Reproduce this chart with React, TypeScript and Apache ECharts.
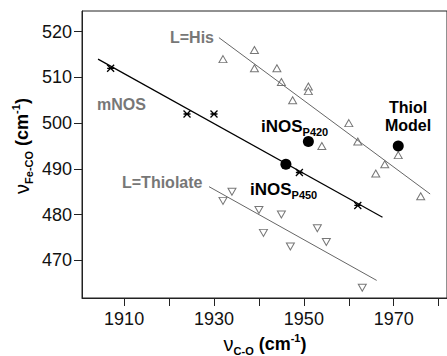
import React, { useEffect, useRef } from "react";
import * as echarts from "echarts";

// mNOS (asterisks)
const mnosX = [1907, 1924, 1930, 1949, 1962];
const mnosY = [512, 502, 502, 489.2, 482];
// L=His (up triangles)
const hisX = [1932, 1939, 1939, 1944, 1945, 1947.5, 1951, 1951, 1954, 1960, 1962, 1966, 1968, 1971, 1976];
const hisY = [514, 516, 512, 512, 509, 505, 508, 507, 495, 500, 496, 489, 491, 493, 484];
// L=Thiolate (down triangles)
const thiolateX = [1932, 1934, 1940, 1941, 1945, 1947, 1953, 1955, 1963];
const thiolateY = [483, 485, 481, 476, 480, 473, 477, 474, 464];
// Highlighted samples (filled circles)
const sampleNames = ["iNOS P420", "iNOS P450", "Thiol Model"];
const sampleX = [1951, 1946, 1971];
const sampleY = [496, 491, 495];
// Fit lines (end points)
const mnosFit = [[1904.2, 514.0], [1967.5, 479.4]];
const hisFit = [[1931.1, 518.7], [1978.1, 484.5]];
const thiolateFit = [[1928.9, 486.1], [1966.2, 465.6]];
// Axes
const xTicks = [1910, 1920, 1930, 1940, 1950, 1960, 1970, 1980];
const xLabels = [1910, 1930, 1950, 1970];
const yTicks = [470, 480, 490, 500, 510, 520];
const xRange = [1900.63, 1981.85];
const yRange = [461.75, 524.53];

const zip = (xs: number[], ys: number[]) => xs.map((x, i) => [x, ys[i]]);

const GRAY = "#777777";
const FONT = "Liberation Sans, Arial, sans-serif";

export default function App() {
  const ref = useRef<HTMLDivElement>(null);
  useEffect(() => {
    if (!ref.current) return;
    const chart = echarts.init(ref.current, null, { renderer: "svg" });
    const subRich = {
      m: { fontSize: 17, fontWeight: "bold", fontFamily: FONT, color: "#000", lineHeight: 22 },
      s: { fontSize: 11, fontWeight: "bold", fontFamily: FONT, color: "#000", lineHeight: 13, verticalAlign: "bottom" },
    };
    const titleRich = {
      n: { fontSize: 20, fontFamily: FONT, color: "#000", lineHeight: 24 },
      s: { fontSize: 11, fontWeight: "bold", fontFamily: FONT, color: "#000", lineHeight: 13, verticalAlign: "bottom" },
      b: { fontSize: 18, fontWeight: "bold", fontFamily: FONT, color: "#000", lineHeight: 24 },
      p: { fontSize: 11, fontWeight: "bold", fontFamily: FONT, color: "#000", lineHeight: 12, verticalAlign: "top" },
    };
    chart.setOption({
      animation: false,
      grid: {
        left: 82,
        top: 11,
        right: -6,
        bottom: 58,
        show: true,
        borderColor: "#222",
        borderWidth: 1,
      },
      xAxis: {
        type: "value",
        min: xRange[0],
        max: xRange[1],
        splitLine: { show: false },
        axisLine: { show: true, lineStyle: { color: "#222", width: 1 } },
        axisTick: { show: true, length: 8, customValues: xTicks, lineStyle: { color: "#222" } },
        axisLabel: {
          customValues: xLabels,
          formatter: (v: number) => String(v),
          fontSize: 18,
          fontFamily: FONT,
          color: "#111",
          margin: 12,
        },
      },
      yAxis: {
        type: "value",
        min: yRange[0],
        max: yRange[1],
        splitLine: { show: false },
        axisLine: { show: true, lineStyle: { color: "#222", width: 1 } },
        axisTick: { show: true, length: 8, customValues: yTicks, lineStyle: { color: "#222" } },
        axisLabel: {
          customValues: yTicks,
          formatter: (v: number) => String(v),
          fontSize: 18,
          fontFamily: FONT,
          color: "#111",
          margin: 10,
        },
      },
      series: [
        {
          type: "line",
          data: mnosFit,
          symbol: "none",
          lineStyle: { color: "#000", width: 1.2 },
          silent: true,
        },
        {
          type: "line",
          data: hisFit,
          symbol: "none",
          lineStyle: { color: "#666", width: 1 },
          silent: true,
        },
        {
          type: "line",
          data: thiolateFit,
          symbol: "none",
          lineStyle: { color: "#666", width: 1 },
          silent: true,
        },
        {
          name: "L=His",
          type: "scatter",
          data: zip(hisX, hisY),
          symbol: "triangle",
          symbolSize: [8, 7],
          itemStyle: { color: "#fff", borderColor: GRAY, borderWidth: 1, opacity: 1 },
        },
        {
          name: "L=Thiolate",
          type: "scatter",
          data: zip(thiolateX, thiolateY),
          symbol: "triangle",
          symbolRotate: 180,
          symbolSize: [8, 7],
          itemStyle: { color: "#fff", borderColor: GRAY, borderWidth: 1, opacity: 1 },
        },
        {
          name: "mNOS",
          type: "scatter",
          data: zip(mnosX, mnosY),
          symbol: "path://M0,0L10,10M10,0L0,10M0,5L10,5",
          symbolSize: 7,
          itemStyle: { color: "#000", borderColor: "#000", borderWidth: 1.3, opacity: 1 },
        },
        {
          name: "samples",
          type: "scatter",
          data: sampleX.map((x, i) => ({ name: sampleNames[i], value: [x, sampleY[i]] })),
          symbol: "circle",
          symbolSize: 11,
          itemStyle: { color: "#000", opacity: 1 },
        },
      ],
      graphic: [
        {
          type: "text",
          x: 170,
          y: 37,
          style: { text: "L=His", fill: GRAY, font: `bold 16px ${FONT}`, verticalAlign: "middle" },
        },
        {
          type: "text",
          x: 97,
          y: 104,
          style: { text: "mNOS", fill: GRAY, font: `bold 16px ${FONT}`, verticalAlign: "middle" },
        },
        {
          type: "text",
          x: 122,
          y: 182,
          style: { text: "L=Thiolate", fill: GRAY, font: `bold 16px ${FONT}`, verticalAlign: "middle" },
        },
        {
          type: "text",
          x: 261,
          y: 126,
          style: { text: "{m|iNOS}{s|P420}", rich: subRich, verticalAlign: "middle" },
        },
        {
          type: "text",
          x: 250,
          y: 189,
          style: { text: "{m|iNOS}{s|P450}", rich: subRich, verticalAlign: "middle" },
        },
        {
          type: "text",
          x: 408,
          y: 116,
          style: {
            text: "Thiol\nModel",
            fill: "#000",
            font: `bold 16px ${FONT}`,
            align: "center",
            verticalAlign: "middle",
            lineHeight: 18,
          },
        },
        {
          type: "text",
          x: 265,
          y: 344,
          style: {
            text: "{n|ν}{s|C-O}{b| (cm}{p|-1}{b|)}",
            rich: titleRich,
            align: "center",
            verticalAlign: "middle",
          },
        },
        {
          type: "text",
          x: 22,
          y: 146,
          rotation: Math.PI / 2,
          style: {
            text: "{n|ν}{s|Fe-CO}{b| (cm}{p|-1}{b|)}",
            rich: titleRich,
            align: "center",
            verticalAlign: "middle",
          },
        },
      ],
    });
    return () => chart.dispose();
  }, []);
  return (
    <div
      ref={ref}
      style={{ position: "fixed", left: 0, top: 0, width: 447, height: 356, background: "#fff" }}
    />
  );
}
